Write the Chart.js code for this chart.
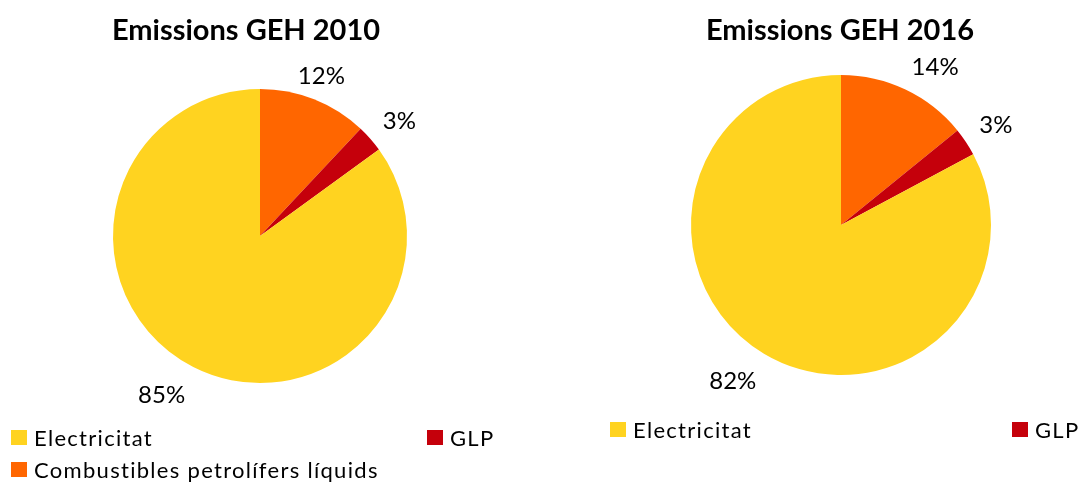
<!DOCTYPE html>
<html>
<head>
<meta charset="utf-8">
<script src="https://cdn.jsdelivr.net/npm/chart.js@4"></script>
<style>
  html, body { margin: 0; padding: 0; background: #fff; }
  body { width: 1080px; height: 482px; position: relative; overflow: hidden; font-family: Lato, "Open Sans", sans-serif; color: #000; }
  .panel { position: absolute; top: 0; width: 540px; height: 482px; }
  .panel canvas { position: absolute; left: 0; top: 0; }
  .title { position: absolute; top: 11px; font-weight: bold; font-size: 29px; white-space: nowrap; transform: translateX(-50%); }
  .legend-item { position: absolute; font-size: 22px; letter-spacing: 1.3px; white-space: nowrap; line-height: 16px; }
  .legend-item span.box { display: inline-block; width: 16px; height: 15px; vertical-align: top; margin-right: 7px; }
</style>
</head>
<body>
<div class="panel" id="p2010" style="left:0">
  <canvas id="chart2010" width="540" height="482"></canvas>
</div>
<div class="panel" id="p2016" style="left:540px">
  <canvas id="chart2016" width="540" height="482"></canvas>
</div>

<script>
// slice order = drawing order, clockwise from 12 o'clock
const categories = ['Combustibles petrolífers líquids', 'GLP', 'Electricitat'];
const shares2010 = [12, 3, 85];
const shares2016 = [14, 3, 82];
const sliceColors = ['#FF6600', '#C5000B', '#FFD320'];
const chartTitles = ['Emissions GEH 2010', 'Emissions GEH 2016'];

// percentage labels placed just outside each slice; nudge = small per-label shift in px
const outsideLabels = {
    id: 'outsideLabels',
    afterDatasetsDraw(chart, args, opts) {
        const ctx = chart.ctx;
        const meta = chart.getDatasetMeta(0);
        const values = chart.data.datasets[0].data;
        const nudge = opts.nudge || [];
        ctx.save();
        ctx.font = '24px Lato';
        ctx.fillStyle = '#000';
        ctx.textAlign = 'center';
        ctx.textBaseline = 'middle';
        meta.data.forEach((arc, i) => {
            const p = arc.getProps(['x', 'y', 'startAngle', 'endAngle', 'outerRadius'], true);
            const mid = (p.startAngle + p.endAngle) / 2;
            const text = values[i] + '%';
            const w = ctx.measureText(text).width;
            const h = 17;
            const cos = Math.cos(mid), sin = Math.sin(mid);
            const reach = Math.abs(cos) * w / 2 + Math.abs(sin) * h / 2;
            const r = p.outerRadius + 14 + reach;
            const [nx, ny] = nudge[i] || [0, 0];
            ctx.fillText(text, p.x + cos * r + nx, p.y + sin * r + ny);
        });
        ctx.restore();
    }
};

function makePie(canvasId, values, pad, nudge) {
    const ctx = document.getElementById(canvasId).getContext('2d');
    return new Chart(ctx, {
        type: 'pie',
        data: {
            labels: categories,
            datasets: [{
                data: values,
                backgroundColor: sliceColors,
                borderWidth: 0
            }]
        },
        options: {
            responsive: false,
            animation: false,
            layout: { padding: pad },
            plugins: {
                legend: { display: false },
                title: { display: false },
                tooltip: { enabled: false },
                outsideLabels: { nudge: nudge }
            }
        },
        plugins: [outsideLabels]
    });
}

function addTitle(panelId, text, centerX) {
    const el = document.createElement('div');
    el.className = 'title';
    el.textContent = text;
    el.style.left = centerX + 'px';
    document.getElementById(panelId).appendChild(el);
}

// legend entries: [category index, left, top]
function addLegend(panelId, entries) {
    const panel = document.getElementById(panelId);
    entries.forEach(([idx, left, top]) => {
        const item = document.createElement('div');
        item.className = 'legend-item';
        item.style.left = left + 'px';
        item.style.top = top + 'px';
        const box = document.createElement('span');
        box.className = 'box';
        box.style.background = sliceColors[idx];
        item.appendChild(box);
        item.appendChild(document.createTextNode(categories[idx]));
        panel.appendChild(item);
    });
}

makePie('chart2010', shares2010, { left: 113, right: 133, top: 89, bottom: 99 },
    [[-4, 5], [5, 4], [-17, 0]]);
makePie('chart2016', shares2016, { left: 151, right: 89, top: 75, bottom: 107 },
    [[16, 6], [3, 1], [-14, -1]]);

addTitle('p2010', chartTitles[0], 246);
addTitle('p2016', chartTitles[1], 300);

addLegend('p2010', [[2, 11, 430], [1, 427, 430], [0, 11, 462]]);
addLegend('p2016', [[2, 70, 422], [1, 472, 422]]);
</script>
</body>
</html>
